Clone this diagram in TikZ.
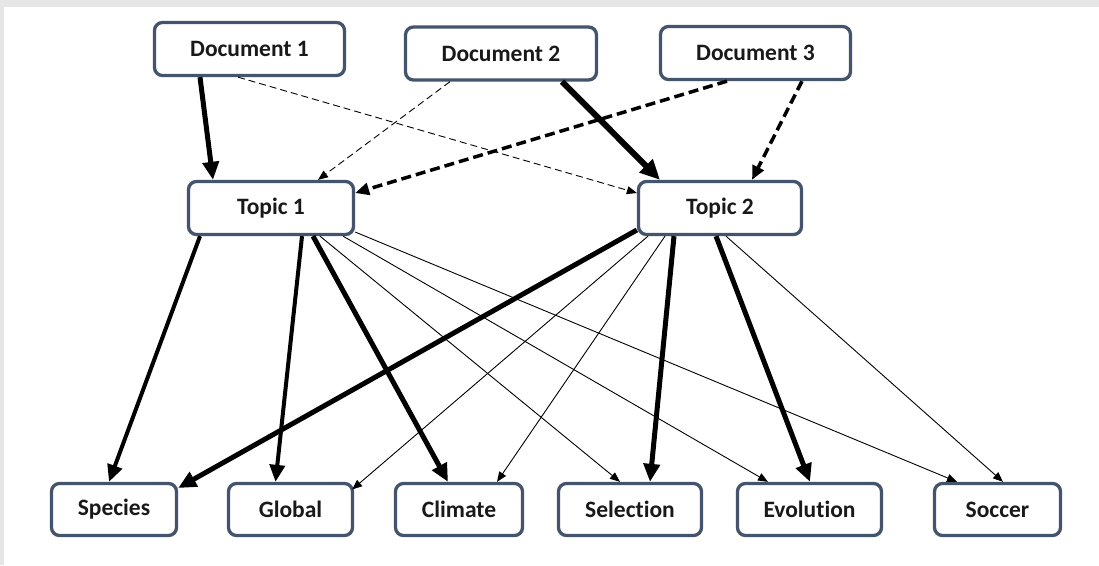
\documentclass[tikz,border=0pt]{standalone}
\usepackage{fontspec}
\setmainfont{Carlito}[Ligatures=NoCommon]
\usetikzlibrary{arrows.meta,calc}
\definecolor{boxline}{RGB}{68,84,108}
\definecolor{bandgray}{RGB}{230,230,230}
\begin{document}
\begin{tikzpicture}[x=1pt,y=-1pt,
  box/.style={draw=boxline, line width=3.3pt, rounded corners=8pt, fill=white,
    inner sep=0pt, text=black!90, font=\fontsize{23.5}{27}\selectfont\bfseries},
  topbox/.style={box, minimum height=53pt},
  botbox/.style={box, minimum height=52pt},
  heavy/.style={line width=5pt, -{Triangle[length=18pt,width=16pt]}},
  heavier/.style={line width=6pt, -{Triangle[length=20pt,width=18pt]}},
  medium/.style={line width=4pt, -{Triangle[length=17pt,width=15pt]}},
  light/.style={line width=0.9pt, -{Triangle[length=10pt,width=8pt]}},
  lightdash/.style={line width=0.9pt, dash pattern=on 7pt off 4pt, -{Triangle[length=10pt,width=8pt]}},
  heavydash/.style={line width=3.5pt, dash pattern=on 10pt off 5pt, -{Triangle[length=14pt,width=12pt]}},
]
\useasboundingbox (0,0) rectangle (1099,565);
% page background with its grey top and left margin
\fill[bandgray] (0,0) rectangle (1099,565);
\fill[white] (4,7) rectangle (1099,565);

% documents
\node[topbox, minimum width=190pt] (d1) at (249.5,49) {Document 1};
\node[topbox, minimum width=191pt] (d2) at (501,53.5) {Document 2};
\node[topbox, minimum width=190pt] (d3) at (755.5,53) {Document 3};

% topics
\node[topbox, minimum width=165pt] (t1) at (271,208) {Topic 1};
\node[topbox, minimum width=163pt] (t2) at (720,208) {Topic 2};

% words
\node[botbox, minimum width=125pt] (sp) at (114,509.5) {Species};
\node[botbox, minimum width=124pt] (gl) at (290.5,509.5) {Global};
\node[botbox, minimum width=127pt] (cl) at (459,509.5) {Climate};
\node[botbox, minimum width=143pt] (se) at (630,509.5) {Selection};
\node[botbox, minimum width=144pt] (ev) at (809.5,509.5) {Evolution};
\node[botbox, minimum width=126pt] (so) at (997.5,509.5) {Soccer};

% document -> topic
\draw[heavy] ($(d1.south)+(-49.5,0)$) -- ($(t1.north)+(-58,0)$);
\draw[lightdash] ($(d1.south)+(-11.5,0)$) -- ($(t2.west)+(0,-15)$);
\draw[lightdash] ($(d2.south)+(-51,0)$) -- ($(t1.north)+(47,0)$);
\draw[heavier] ($(d2.south)+(61,0)$) -- ($(t2.north)+(-60,0)$);
\draw[heavydash] ($(d3.south)+(-28.5,0)$) -- ($(t1.east)+(0,-15)$);
\draw[heavydash] ($(d3.south)+(46.5,0)$) -- ($(t2.north)+(32,0)$);

% topic 1 -> words
\draw[medium] ($(t1.south)+(-71,0)$) -- ($(sp.north)+(-5,0)$);
\draw[medium] ($(t1.south)+(31,0)$) -- ($(gl.north)+(-15,0)$);
\draw[heavy] ($(t1.south)+(42,0)$) -- ($(cl.north)+(-11,0)$);
\draw[light] ($(t1.south)+(49,0)$) -- ($(se.north)+(-10,0)$);
\draw[light] ($(t1.south)+(72,0)$) -- ($(ev.north)+(-41.5,0)$);
\draw[light] ($(t1.east)+(0,24)$) -- ($(so.north)+(-40.5,0)$);

% topic 2 -> words
\draw[heavy] ($(t2.west)+(0,22)$) -- ($(sp.east)+(0,-21.5)$);
\draw[light] ($(t2.south)+(-72,0)$) -- ($(gl.east)+(-2,-20)$);
\draw[light] ($(t2.south)+(-55,0)$) -- ($(cl.north)+(38,0)$);
\draw[heavy] ($(t2.south)+(-46,0)$) -- ($(se.north)+(20,0)$);
\draw[heavy] ($(t2.south)+(-4,0)$) -- ($(ev.north)+(0.5,0)$);
\draw[light] ($(t2.south)+(6,0)$) -- ($(so.north)+(5.5,0)$);
\end{tikzpicture}
\end{document}
